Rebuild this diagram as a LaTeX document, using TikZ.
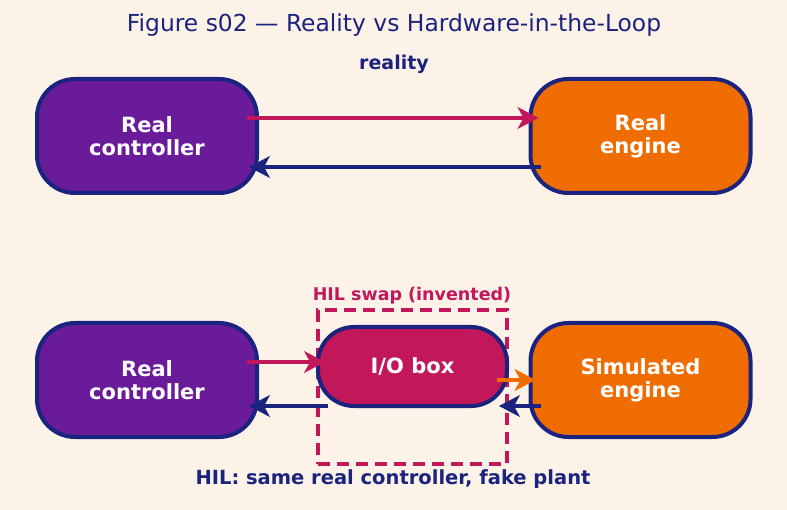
\documentclass[tikz,border=0pt]{standalone}
\usepackage{fontspec}
\setmainfont{DejaVu Sans}
\usetikzlibrary{arrows.meta,calc}
\definecolor{bg}{HTML}{FDF2E8}
\definecolor{navy}{HTML}{1A237E}
\definecolor{purp}{HTML}{6A1B9A}
\definecolor{orng}{HTML}{EF6C00}
\definecolor{crim}{HTML}{C2185B}
\tikzset{
  blk/.style={draw=navy, line width=4pt, rounded corners=38pt, minimum width=220pt, minimum height=114pt, align=center, text=white, font=\fontsize{21}{23}\selectfont\bfseries},
  iobox/.style={draw=navy, line width=4pt, rounded corners=36pt, minimum width=189pt, minimum height=79pt, align=center, text=white, fill=crim, font=\fontsize{21}{23}\selectfont\bfseries},
  arr/.style={line width=4.5pt, -{Stealth[length=21pt,width=22pt,inset=6pt,line width=1pt]}},
  lbl/.style={font=\fontsize{19}{21}\selectfont\bfseries, text=navy}
}
\begin{document}
\begin{tikzpicture}[x=1pt,y=-1pt]
\fill[bg] (0,0) rectangle (787,510);
\useasboundingbox (0,0) rectangle (787,510);
\node[font=\fontsize{23.4}{25}\selectfont, text=navy] (title) at (394,25) {Figure s02 — Reality vs Hardware-in-the-Loop};
\node[lbl] (real) at (394,64) {reality};
\node[blk, fill=purp] (rc1) at (147,136) {Real\\controller};
\node[blk, fill=orng] (re1) at (640.5,136) {Real\\engine};
\node[blk, fill=purp] (rc2) at (147,380) {Real\\controller};
\node[blk, fill=orng] (se2) at (640.5,380) {Simulated\\engine};
\node[draw=crim, line width=3.5pt, dash pattern=on 12pt off 7pt, minimum width=189pt, minimum height=154pt, inner sep=0pt] (swap) at (412.5,387) {};
\node[iobox] (io) at (412.5,366.5) {I/O box};
\node[font=\fontsize{17.5}{19}\selectfont\bfseries, text=crim] (swaplbl) at (412,296) {HIL swap (invented)};
\node[font=\fontsize{19.5}{21}\selectfont\bfseries, text=navy] (cap) at (393,479) {HIL: same real controller, fake plant};
% top arrows
\draw[arr, crim] ($(rc1.east)+(-12,-18)$) -- ($(re1.west)+(10,-18)$);
\draw[arr, navy] ($(re1.west)+(12,31)$) -- ($(rc1.east)+(-10,31)$);
% bottom arrows
\draw[arr, crim] ($(rc2.east)+(-12,-18)$) -- ($(io.west)+(9,-4.5)$);
\draw[arr, navy] ($(io.west)+(12,39.5)$) -- ($(rc2.east)+(-10,26)$);
\draw[arr, orng] ($(io.east)+(-12,13.5)$) -- ($(se2.west)+(7,0)$);
\draw[arr, navy] ($(se2.west)+(12,26)$) -- ($(io.east)+(-10,39.5)$);
\end{tikzpicture}
\end{document}
